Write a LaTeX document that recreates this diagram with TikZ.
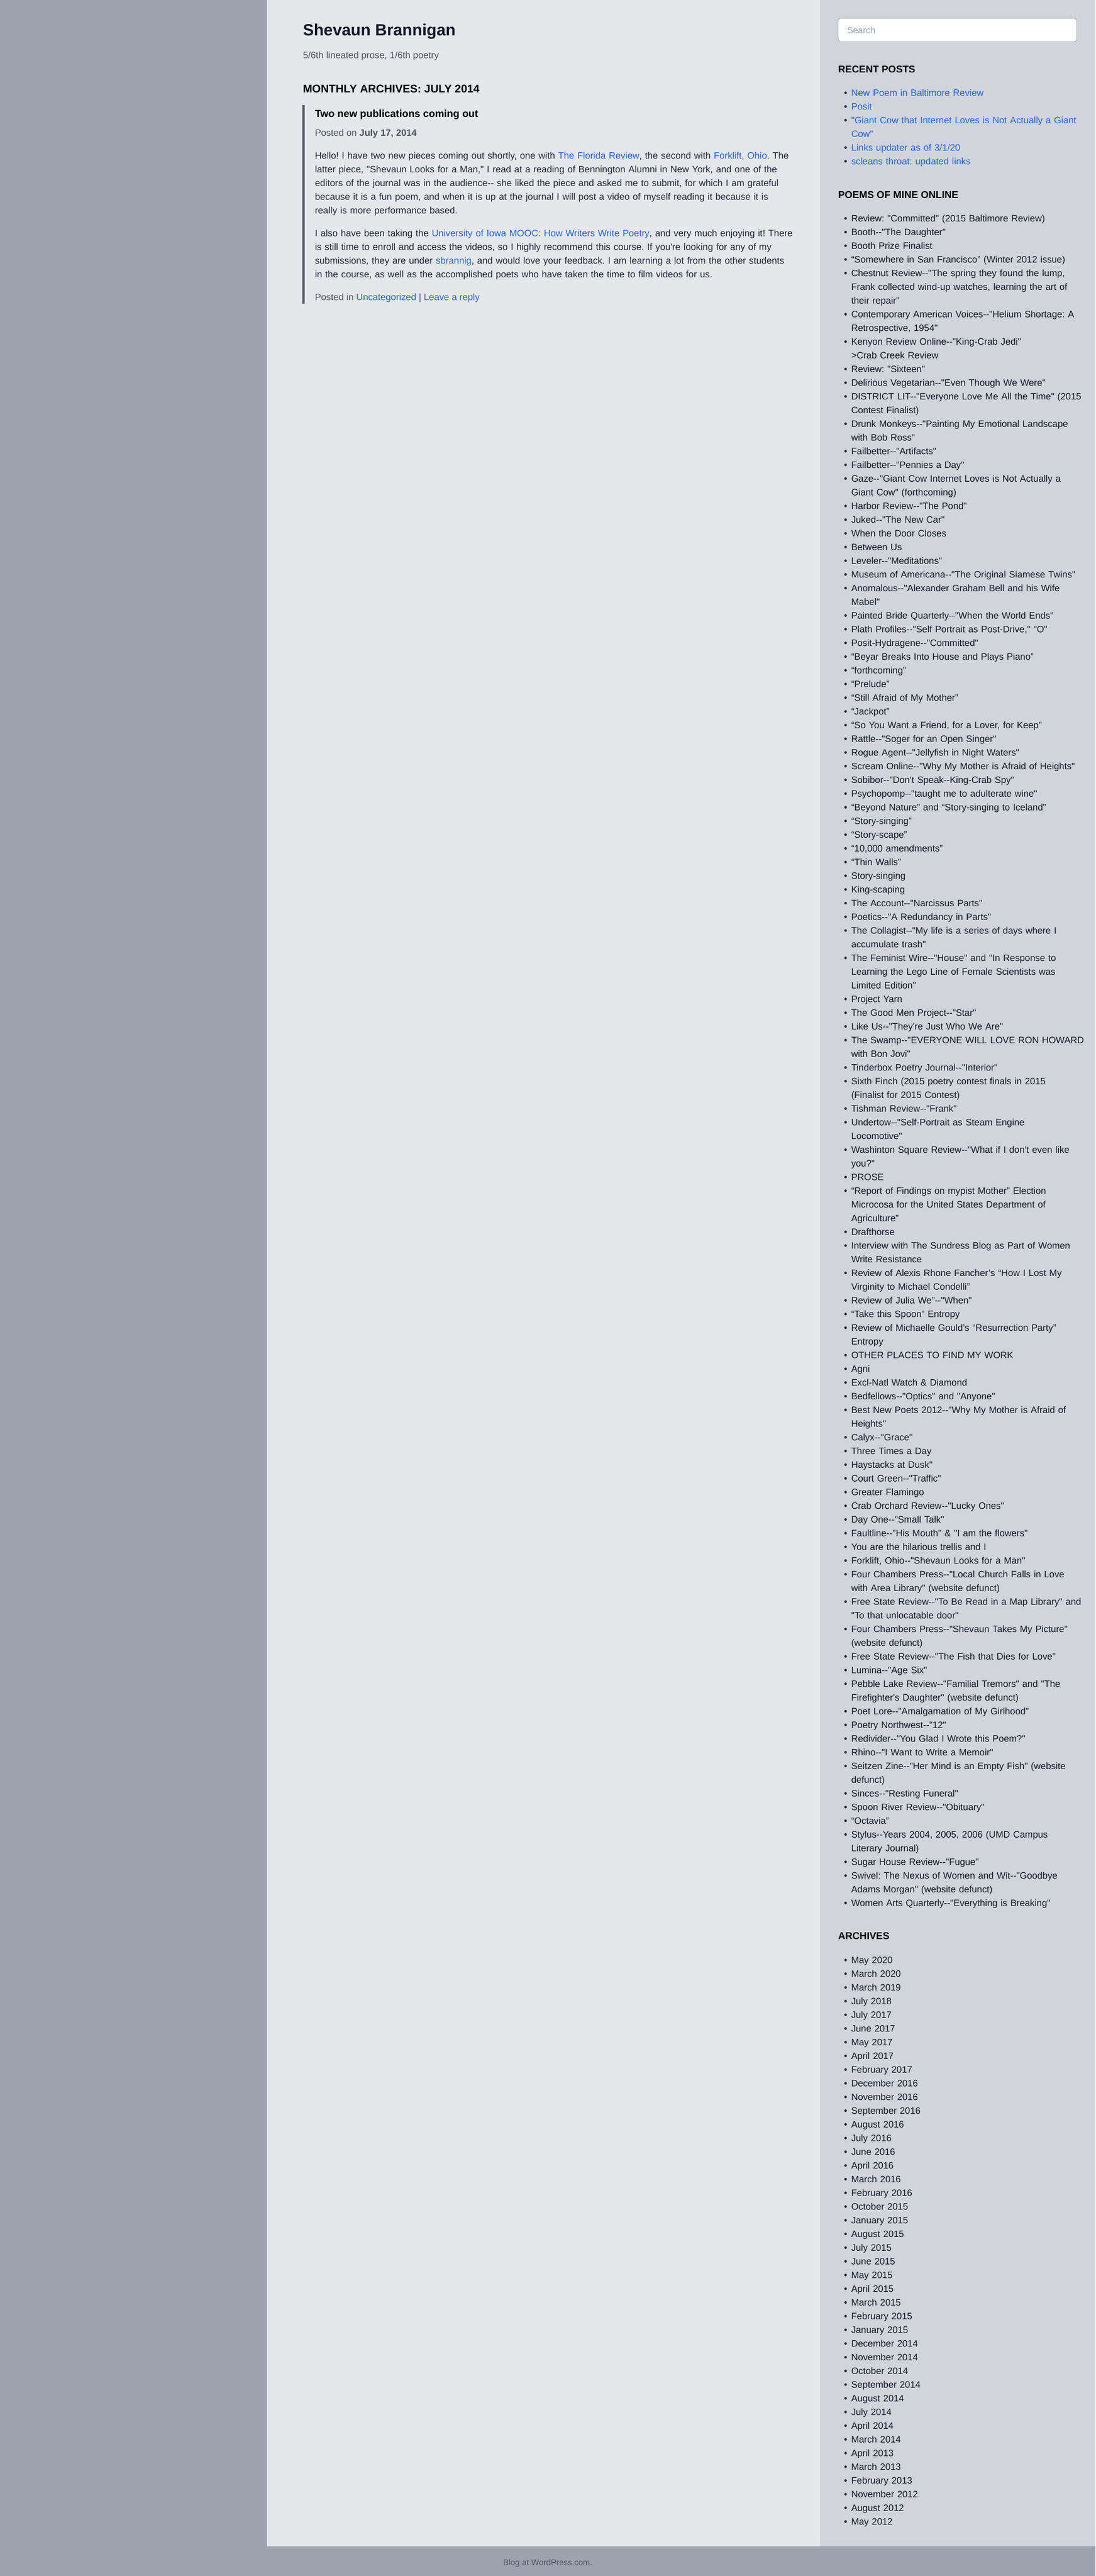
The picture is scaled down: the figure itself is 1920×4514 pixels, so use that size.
\documentclass[tikz,border=0pt]{standalone}
\usepackage{fontspec}
\setmainfont{Liberation Sans}[Ligatures=TeXOff]
\definecolor{pagebg}{HTML}{9CA3AF}
\definecolor{mainbg}{HTML}{E5E7EB}
\definecolor{sidebg}{HTML}{D1D5DB}
\definecolor{linkc}{HTML}{2563EB}
\definecolor{bodyc}{HTML}{1F2937}
\definecolor{sidec}{HTML}{111827}
\definecolor{mutedc}{HTML}{4B5563}
\definecolor{barc}{HTML}{4B5563}
\newcommand\lk[1]{\textcolor{linkc}{#1}}
\newcommand\itm{\strut\llap{\textcolor{sidec}{•}\hspace{7pt}}}
\newcommand\cnt{\strut}
\tikzset{
  plain/.style={inner sep=0pt, outer sep=0pt},
  bodytext/.style={plain, anchor=north west, align=left, text width=880pt, font=\fontsize{16.3}{24}\selectfont, text=bodyc},
  sidetext/.style={plain, anchor=north west, align=left, text width=426pt, font=\fontsize{16.3}{24}\selectfont, text=sidec},
  sidehead/.style={plain, anchor=base west, font=\bfseries\fontsize{17.4}{20}\selectfont, text=black},
  oneline/.style={plain, anchor=base west},
}
\begin{document}
\frenchspacing
\begin{tikzpicture}[x=1pt,y=-1pt]
\useasboundingbox (0,0) rectangle (1920,4514);
% backgrounds
\fill[pagebg] (0,0) rectangle (1920,4514);
\fill[mainbg] (468,0) rectangle (1437,4462);
\fill[sidebg] (1437,0) rectangle (1920,4462);

% ---------- main column ----------
\node[oneline, font=\bfseries\fontsize{28.5}{32}\selectfont, text=sidec] (title) at (531,62) {Shevaun Brannigan};
\node[oneline, font=\fontsize{16.3}{20}\selectfont, text=mutedc] (tagline) at (531,102) {5/6th lineated prose, 1/6th poetry};
\node[oneline, font=\bfseries\fontsize{19.5}{22}\selectfont, text=black] (archhead) at (531,162) {MONTHLY ARCHIVES: JULY 2014};

\fill[barc] (530,184) rectangle (534,532);

\node[oneline, font=\bfseries\fontsize{17.9}{22}\selectfont, text=black] (posttitle) at (552,205) {Two new publications coming out};
\node[oneline, font=\fontsize{16.3}{20}\selectfont, text=mutedc] (postedon) at (552,238) {Posted on \textbf{July 17, 2014}};

\node[bodytext] (para1) at (552,261.2) {\noindent
\cnt Hello! I have two new pieces coming out shortly, one with \lk{The Florida Review}, the second with \lk{Forklift, Ohio}. The\\
\cnt latter piece, "Shevaun Looks for a Man," I read at a reading of Bennington Alumni in New York, and one of the\\
\cnt editors of the journal was in the audience-- she liked the piece and asked me to submit, for which I am grateful\\
\cnt because it is a fun poem, and when it is up at the journal I will post a video of myself reading it because it is\\
\cnt really is more performance based.};

\node[bodytext] (para2) at (552,397.2) {\noindent
\cnt I also have been taking the \lk{University of Iowa MOOC: How Writers Write Poetry}, and very much enjoying it! There\\
\cnt is still time to enroll and access the videos, so I highly recommend this course. If you're looking for any of my\\
\cnt submissions, they are under \lk{sbrannig}, and would love your feedback. I am learning a lot from the other students\\
\cnt in the course, as well as the accomplished poets who have taken the time to film videos for us.};

\node[oneline, font=\fontsize{16.3}{20}\selectfont, text=mutedc] (postedin) at (552,526) {Posted in \lk{Uncategorized} | \lk{Leave a reply}};

% ---------- sidebar ----------
\node[plain, draw=pagebg, line width=0.9pt, fill=white, rounded corners=4pt, minimum width=418pt, minimum height=41pt, anchor=north west] (search) at (1469,32) {};
\node[oneline, font=\fontsize{15.5}{18}\selectfont, text=pagebg] (searchtext) at (1485,58.5) {Search};

\node[sidehead] (recenthead) at (1469,127) {RECENT POSTS};
\node[sidetext, text=linkc] (recent) at (1492,151.2) {\noindent
\itm New Poem in Baltimore Review\\
\itm Posit\\
\itm "Giant Cow that Internet Loves is Not Actually a Giant\\
\cnt Cow"\\
\itm Links updater as of 3/1/20\\
\itm scleans throat: updated links};

\node[sidehead] (poemshead) at (1469,347) {POEMS OF MINE ONLINE};
\node[sidetext] (poems) at (1492,371.2) {\noindent
\itm Review: "Committed" (2015 Baltimore Review)\\
\itm Booth--"The Daughter"\\
\itm Booth Prize Finalist\\
\itm “Somewhere in San Francisco” (Winter 2012 issue)\\
\itm Chestnut Review--"The spring they found the lump,\\
\cnt Frank collected wind-up watches, learning the art of\\
\cnt their repair"\\
\itm Contemporary American Voices--"Helium Shortage: A\\
\cnt Retrospective, 1954"\\
\itm Kenyon Review Online--"King-Crab Jedi"\\
\cnt >Crab Creek Review\\
\itm Review: "Sixteen"\\
\itm Delirious Vegetarian--"Even Though We Were"\\
\itm DISTRICT LIT--"Everyone Love Me All the Time" (2015\\
\cnt Contest Finalist)\\
\itm Drunk Monkeys--"Painting My Emotional Landscape\\
\cnt with Bob Ross"\\
\itm Failbetter--"Artifacts"\\
\itm Failbetter--"Pennies a Day"\\
\itm Gaze--"Giant Cow Internet Loves is Not Actually a\\
\cnt Giant Cow" (forthcoming)\\
\itm Harbor Review--"The Pond"\\
\itm Juked--"The New Car"\\
\itm When the Door Closes\\
\itm Between Us\\
\itm Leveler--"Meditations"\\
\itm Museum of Americana--"The Original Siamese Twins"\\
\itm Anomalous--"Alexander Graham Bell and his Wife\\
\cnt Mabel"\\
\itm Painted Bride Quarterly--"When the World Ends"\\
\itm Plath Profiles--"Self Portrait as Post-Drive," "O"\\
\itm Posit-Hydragene--"Committed"\\
\itm “Beyar Breaks Into House and Plays Piano”\\
\itm “forthcoming”\\
\itm “Prelude”\\
\itm “Still Afraid of My Mother”\\
\itm “Jackpot”\\
\itm “So You Want a Friend, for a Lover, for Keep”\\
\itm Rattle--"Soger for an Open Singer"\\
\itm Rogue Agent--"Jellyfish in Night Waters"\\
\itm Scream Online--"Why My Mother is Afraid of Heights"\\
\itm Sobibor--"Don't Speak--King-Crab Spy"\\
\itm Psychopomp--"taught me to adulterate wine"\\
\itm “Beyond Nature” and “Story-singing to Iceland”\\
\itm “Story-singing”\\
\itm “Story-scape”\\
\itm “10,000 amendments”\\
\itm “Thin Walls”\\
\itm Story-singing\\
\itm King-scaping\\
\itm The Account--"Narcissus Parts"\\
\itm Poetics--"A Redundancy in Parts"\\
\itm The Collagist--"My life is a series of days where I\\
\cnt accumulate trash"\\
\itm The Feminist Wire--"House" and "In Response to\\
\cnt Learning the Lego Line of Female Scientists was\\
\cnt Limited Edition"\\
\itm Project Yarn\\
\itm The Good Men Project--"Star"\\
\itm Like Us--"They're Just Who We Are"\\
\itm The Swamp--"EVERYONE WILL LOVE RON HOWARD\\
\cnt with Bon Jovi"\\
\itm Tinderbox Poetry Journal--"Interior"\\
\itm Sixth Finch (2015 poetry contest finals in 2015\\
\cnt (Finalist for 2015 Contest)\\
\itm Tishman Review--"Frank"\\
\itm Undertow--"Self-Portrait as Steam Engine\\
\cnt Locomotive"\\
\itm Washinton Square Review--"What if I don't even like\\
\cnt you?"\\
\itm PROSE\\
\itm “Report of Findings on mypist Mother” Election\\
\cnt Microcosa for the United States Department of\\
\cnt Agriculture”\\
\itm Drafthorse\\
\itm Interview with The Sundress Blog as Part of Women\\
\cnt Write Resistance\\
\itm Review of Alexis Rhone Fancher’s “How I Lost My\\
\cnt Virginity to Michael Condelli”\\
\itm Review of Julia We”--"When"\\
\itm “Take this Spoon” Entropy\\
\itm Review of Michaelle Gould’s “Resurrection Party”\\
\cnt Entropy\\
\itm OTHER PLACES TO FIND MY WORK\\
\itm Agni\\
\itm Excl-Natl Watch \& Diamond\\
\itm Bedfellows--"Optics" and "Anyone"\\
\itm Best New Poets 2012--"Why My Mother is Afraid of\\
\cnt Heights"\\
\itm Calyx--"Grace"\\
\itm Three Times a Day\\
\itm Haystacks at Dusk"\\
\itm Court Green--"Traffic"\\
\itm Greater Flamingo\\
\itm Crab Orchard Review--"Lucky Ones"\\
\itm Day One--"Small Talk"\\
\itm Faultline--"His Mouth" \& "I am the flowers"\\
\itm You are the hilarious trellis and I\\
\itm Forklift, Ohio--"Shevaun Looks for a Man"\\
\itm Four Chambers Press--"Local Church Falls in Love\\
\cnt with Area Library" (website defunct)\\
\itm Free State Review--"To Be Read in a Map Library" and\\
\cnt "To that unlocatable door"\\
\itm Four Chambers Press--"Shevaun Takes My Picture"\\
\cnt (website defunct)\\
\itm Free State Review--"The Fish that Dies for Love"\\
\itm Lumina--"Age Six"\\
\itm Pebble Lake Review--"Familial Tremors" and "The\\
\cnt Firefighter's Daughter" (website defunct)\\
\itm Poet Lore--"Amalgamation of My Girlhood"\\
\itm Poetry Northwest--"12"\\
\itm Redivider--"You Glad I Wrote this Poem?"\\
\itm Rhino--"I Want to Write a Memoir"\\
\itm Seitzen Zine--"Her Mind is an Empty Fish" (website\\
\cnt defunct)\\
\itm Sinces--"Resting Funeral"\\
\itm Spoon River Review--"Obituary"\\
\itm “Octavia”\\
\itm Stylus--Years 2004, 2005, 2006 (UMD Campus\\
\cnt Literary Journal)\\
\itm Sugar House Review--"Fugue"\\
\itm Swivel: The Nexus of Women and Wit--"Goodbye\\
\cnt Adams Morgan" (website defunct)\\
\itm Women Arts Quarterly--"Everything is Breaking"};

\node[sidehead] (archivehead) at (1469,3398) {ARCHIVES};
\node[sidetext] (archives) at (1492,3423.2) {\noindent
\itm May 2020\\
\itm March 2020\\
\itm March 2019\\
\itm July 2018\\
\itm July 2017\\
\itm June 2017\\
\itm May 2017\\
\itm April 2017\\
\itm February 2017\\
\itm December 2016\\
\itm November 2016\\
\itm September 2016\\
\itm August 2016\\
\itm July 2016\\
\itm June 2016\\
\itm April 2016\\
\itm March 2016\\
\itm February 2016\\
\itm October 2015\\
\itm January 2015\\
\itm August 2015\\
\itm July 2015\\
\itm June 2015\\
\itm May 2015\\
\itm April 2015\\
\itm March 2015\\
\itm February 2015\\
\itm January 2015\\
\itm December 2014\\
\itm November 2014\\
\itm October 2014\\
\itm September 2014\\
\itm August 2014\\
\itm July 2014\\
\itm April 2014\\
\itm March 2014\\
\itm April 2013\\
\itm March 2013\\
\itm February 2013\\
\itm November 2012\\
\itm August 2012\\
\itm May 2012};

% ---------- footer ----------
\node[plain, anchor=base, font=\fontsize{14.5}{18}\selectfont, text=mutedc] (footer) at (960,4495) {Blog at WordPress.com.};
\end{tikzpicture}
\end{document}
